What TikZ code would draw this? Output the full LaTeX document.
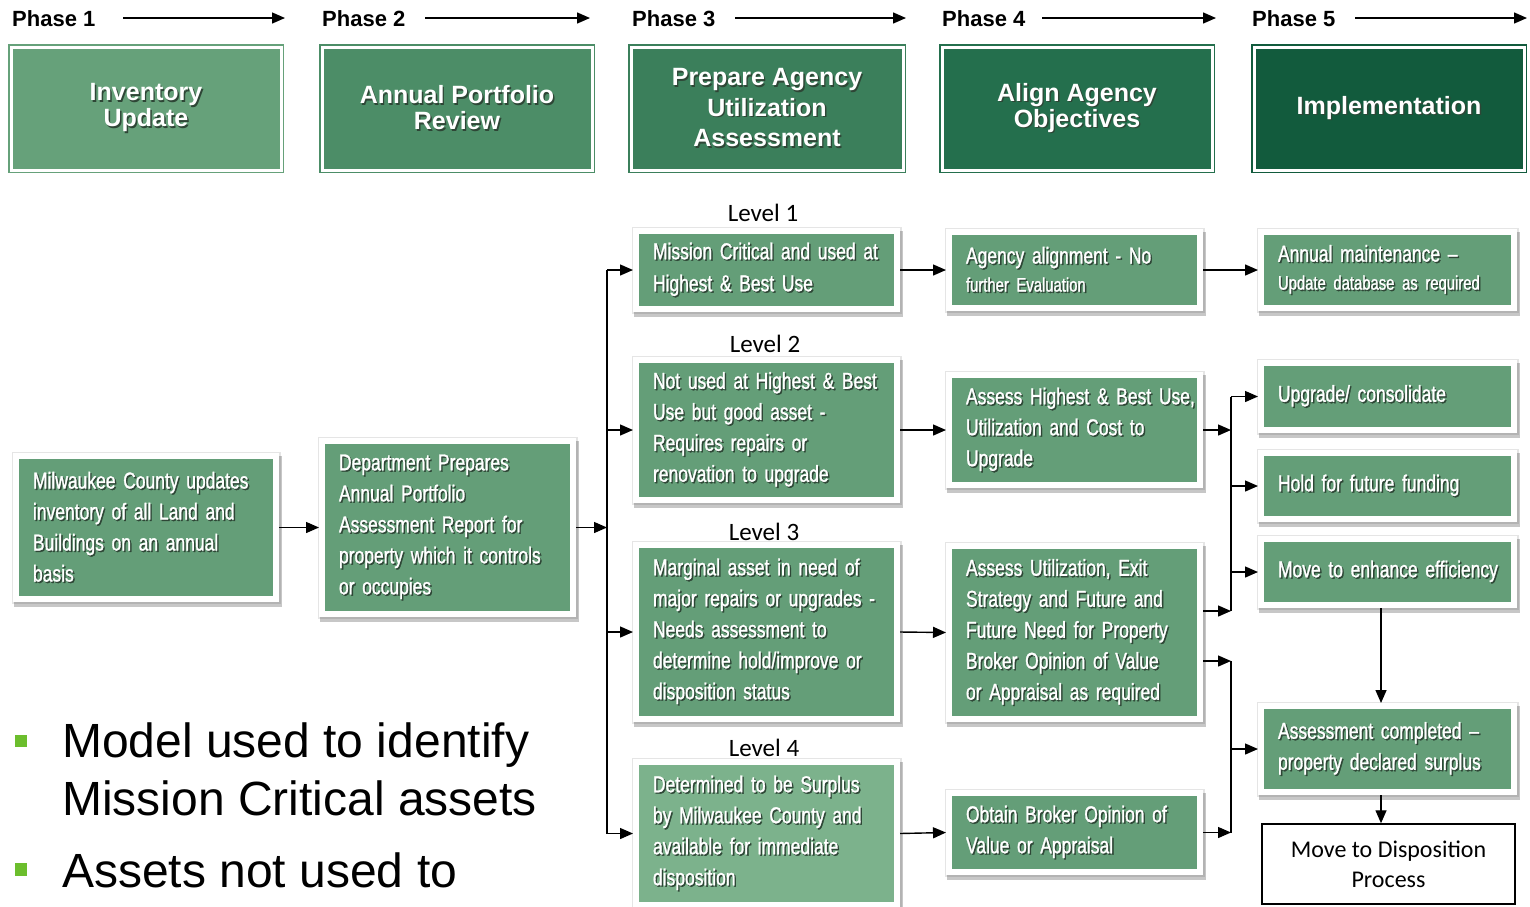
\documentclass[tikz,border=0pt]{standalone}
\usepackage{fontspec}
\setmainfont{Liberation Sans}
\newfontfamily\cond[FakeStretch=0.76,FakeBold=1.2]{Liberation Sans}
\newfontfamily\calib{Carlito}
\usetikzlibrary{arrows.meta,shadows}
\definecolor{boxg}{HTML}{649E78}
\definecolor{boxl}{HTML}{7CB28C}
\definecolor{pA}{HTML}{66A17A}
\definecolor{pB}{HTML}{4C8D67}
\definecolor{pC}{HTML}{3B7F5B}
\definecolor{pD}{HTML}{246F4D}
\definecolor{pE}{HTML}{125B3D}
\definecolor{tshad}{HTML}{2E4636}
\definecolor{bulg}{HTML}{6CBE2D}
\newcommand\ts[1]{\mbox{\rlap{\kern1.4pt\raisebox{-1.4pt}{\textcolor{tshad}{#1}}}#1}}
\tikzset{
  gbox/.style={rectangle, fill=boxg, draw=white, line width=6pt, text=white,
    font=\cond\fontsize{23}{31}\selectfont, align=left, inner xsep=17pt, inner ysep=0pt,
    general shadow={draw=black, line width=9pt, opacity=0.10},
    general shadow={shadow xshift=2pt, shadow yshift=-4pt, draw=black, line width=8pt, opacity=0.22}},
  pbox/.style={rectangle, fill=#1, draw=#1, line width=1.5pt, double=white, double distance=3pt,
    text=white, font=\bfseries\fontsize{25}{26}\selectfont, align=center,
    minimum width=270pt, minimum height=123pt, inner sep=0pt},
  phl/.style={anchor=west, inner sep=0pt, font=\bfseries\fontsize{22}{24}\selectfont},
  lvl/.style={inner sep=0pt, font=\calib\fontsize{25}{28}\selectfont},
  arr/.style={-{Triangle[length=13pt,width=11pt]}, line width=1.4pt},
  conn/.style={line width=1.4pt},
}
\begin{document}
\begin{tikzpicture}[x=1pt,y=-1pt]
\useasboundingbox (0,0) rectangle (1530,906);
% phase headers
\node[phl] (ph1) at (12,19) {Phase 1};
\node[phl] (ph2) at (322,19) {Phase 2};
\node[phl] (ph3) at (632,19) {Phase 3};
\node[phl] (ph4) at (942,19) {Phase 4};
\node[phl] (ph5) at (1252,19) {Phase 5};
\coordinate (a1s) at (123,18); \coordinate (a1e) at (285,18);
\coordinate (a2s) at (425,18); \coordinate (a2e) at (590,18);
\coordinate (a3s) at (735,18); \coordinate (a3e) at (906,18);
\coordinate (a4s) at (1042,18); \coordinate (a4e) at (1216,18);
\coordinate (a5s) at (1355,18); \coordinate (a5e) at (1527,18);
\draw[arr] (a1s) -- (a1e);
\draw[arr] (a2s) -- (a2e);
\draw[arr] (a3s) -- (a3e);
\draw[arr] (a4s) -- (a4e);
\draw[arr] (a5s) -- (a5e);
% phase boxes
\node[pbox=pA] (P1) at (146,108.5) {\ts{Inventory}\\\ts{Update}};
\node[pbox=pB] (P2) at (457,108.5) {\ts{Annual Portfolio}\\\ts{Review}};
\node[pbox=pC, minimum width=272pt, font=\bfseries\fontsize{25}{30.5}\selectfont] (P3) at (767,108.5) {\ts{Prepare Agency}\\\ts{Utilization}\\\ts{Assessment}};
\node[pbox=pD] (P4) at (1077,108.5) {\ts{Align Agency}\\\ts{Objectives}};
\node[pbox=pE] (P5) at (1389,108.5) {\ts{Implementation}};
% level labels
\node[lvl] (lv1) at (763,213) {Level 1};
\node[lvl] (lv2) at (765,344) {Level 2};
\node[lvl] (lv3) at (764,532) {Level 3};
\node[lvl] (lv4) at (764,748) {Level 4};
% column 1-2
\node[gbox, minimum width=260pt, minimum height=143pt, text width=226pt] (mil) at (146,527.5)
  {\ts{Milwaukee County updates}\\\ts{inventory of  all Land and}\\\ts{Buildings  on an annual}\\\ts{basis}};
\node[gbox, minimum width=251pt, minimum height=173pt, text width=217pt] (dep) at (447.5,527.5)
  {\ts{Department Prepares}\\\ts{Annual Portfolio}\\\ts{Assessment Report for}\\\ts{property which it controls}\\\ts{or occupies}};
% column 3
\node[gbox, minimum width=261pt, minimum height=78pt, text width=227pt, font=\cond\fontsize{23}{32}\selectfont] (L1) at (766.5,270)
  {\ts{Mission Critical and  used at}\\\ts{Highest \& Best Use}};
\node[gbox, minimum width=261pt, minimum height=140pt, text width=227pt] (L2) at (766.5,430)
  {\ts{Not used at Highest \& Best}\\\ts{Use  but good asset -}\\\ts{Requires repairs or}\\\ts{renovation to upgrade}};
\node[gbox, minimum width=261pt, minimum height=174pt, text width=227pt] (L3) at (766.5,632)
  {\ts{Marginal asset in need of}\\\ts{major repairs  or upgrades -}\\\ts{Needs assessment to}\\\ts{determine  hold/improve or}\\\ts{disposition status}};
\node[gbox, fill=boxl, minimum width=261pt, minimum height=143pt, text width=227pt] (L4) at (766.5,833.5)
  {\ts{Determined  to be Surplus}\\\ts{by Milwaukee County and}\\\ts{available for immediate}\\\ts{disposition}};
% column 4
\node[gbox, minimum width=251pt, minimum height=76pt, text width=217pt, font=\cond\fontsize{23}{28}\selectfont] (C1) at (1074.5,270)
  {\ts{Agency alignment - No}\\{\fontsize{19.5}{28}\selectfont\ts{further Evaluation}}};
\node[gbox, minimum width=251pt, minimum height=110pt, text width=217pt] (C2) at (1074.5,430)
  {\ts{Assess Highest \& Best Use,}\\\ts{Utilization and Cost to}\\\ts{Upgrade}};
\node[gbox, minimum width=251pt, minimum height=173pt, text width=217pt] (C3) at (1074.5,632.5)
  {\ts{Assess Utilization, Exit}\\\ts{Strategy and Future  and}\\\ts{Future Need for  Property}\\\ts{Broker Opinion of Value}\\\ts{or Appraisal as required}};
\node[gbox, minimum width=251pt, minimum height=79pt, text width=217pt] (C4) at (1074.5,832.5)
  {\ts{Obtain Broker Opinion of}\\\ts{Value  or Appraisal}};
% column 5
\node[gbox, minimum width=253pt, minimum height=76pt, text width=219pt, font=\cond\fontsize{23}{28}\selectfont] (D1) at (1387.5,270)
  {\ts{Annual maintenance –}\\{\fontsize{19.5}{28}\selectfont\ts{Update database as required}}};
\node[gbox, minimum width=253pt, minimum height=67pt, text width=219pt] (D2) at (1387.5,396.5)
  {\ts{Upgrade/ consolidate}};
\node[gbox, minimum width=253pt, minimum height=66pt, text width=219pt] (D3) at (1387.5,486)
  {\ts{Hold for future funding}};
\node[gbox, minimum width=253pt, minimum height=66pt, text width=219pt] (D4) at (1387.5,572)
  {\ts{Move to enhance efficiency}};
\node[gbox, minimum width=253pt, minimum height=86pt, text width=219pt] (D5) at (1387.5,749)
  {\ts{Assessment  completed –}\\\ts{property declared surplus}};
\node[rectangle, draw=black, fill=white, line width=1.5pt, minimum width=253pt, minimum height=80pt,
  inner sep=0pt, align=center, font=\calib\fontsize{24}{30}\selectfont] (D6) at (1388.5,864)
  {Move to Disposition\\Process};
% bullets
\node[fill=bulg, minimum size=12.5pt, inner sep=0pt] (b1) at (21,741) {};
\node[fill=bulg, minimum size=12.5pt, inner sep=0pt] (b2) at (21,869.5) {};
\node[anchor=base west, inner sep=0pt, align=left, font=\fontsize{48}{58}\selectfont] (t1) at (62,815)
  {Model used to identify\\Mission Critical assets};
\node[anchor=base west, inner sep=0pt, font=\fontsize{48}{58}\selectfont] (t2) at (62,887)
  {Assets not used to};
% connectors
\draw[arr] (mil.east) -- (dep.west);
\coordinate (j1) at (607,527.5);
\draw[arr] (dep.east) -- (j1);
\draw[conn] (j1 |- L1.west) -- (j1 |- L4.west);
\foreach \n in {L1,L2,L3,L4} \draw[arr] (j1 |- \n.west) -- (\n.west);
\draw[arr] (L1.east) -- (C1.west);
\draw[arr] (L2.east) -- (C2.west);
\draw[arr] (L3.east) -- (C3.west);
\draw[arr] (L4.east) -- (C4.west);
\draw[arr] (C1.east) -- (D1.west);
\coordinate (j2) at (1231,430);
\coordinate (j2b) at (1231,611);
\draw[arr] (C2.east) -- (j2);
\draw[arr] (C3.east |- j2b) -- (j2b);
\draw[conn] (j2 |- D2.west) -- (j2b);
\foreach \n in {D2,D3,D4} \draw[arr] (j2 |- \n.west) -- (\n.west);
\coordinate (j3) at (1231,661);
\draw[arr] (C3.east |- j3) -- (j3);
\draw[arr] (C4.east) -- (j3 |- C4.east);
\draw[conn] (j3) -- (j3 |- C4.east);
\draw[arr] (j3 |- D5.west) -- (D5.west);
\coordinate (vx) at (1381,0);
\draw[arr] (vx |- D4.south) -- (vx |- D5.north);
\draw[arr] (vx |- D5.south) -- (vx |- D6.north);
\end{tikzpicture}
\end{document}
